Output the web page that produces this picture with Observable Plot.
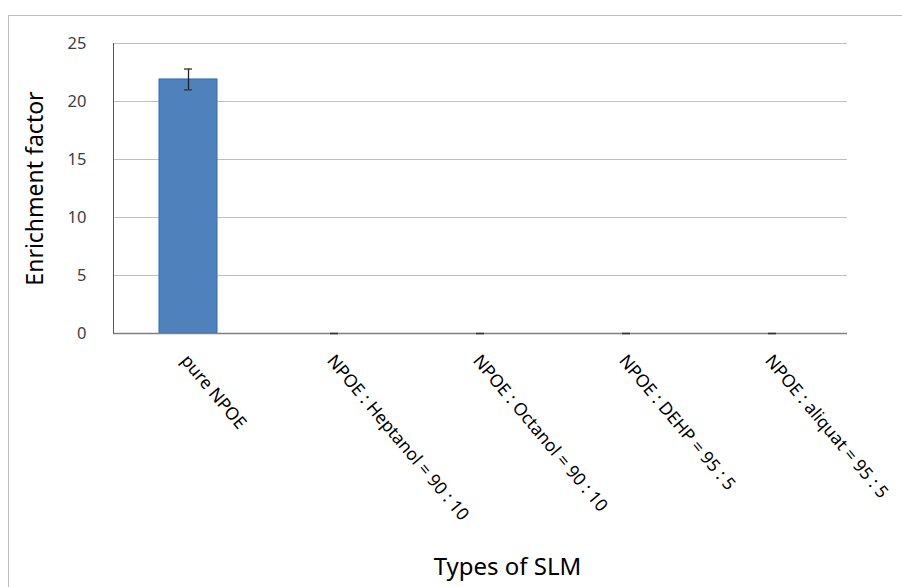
<!DOCTYPE html>
<html><head><meta charset="utf-8">
<script src="https://cdn.jsdelivr.net/npm/d3@7"></script>
<script src="https://cdn.jsdelivr.net/npm/@observablehq/plot@0.6"></script>
<style>
body{margin:0;background:#fff;}
#wrap{position:relative;width:902px;height:587px;overflow:hidden;}
#frame{position:absolute;left:8px;top:15px;width:1000px;height:700px;border:1px solid #bdbdbd;box-sizing:border-box;}
#chart{position:absolute;left:0;top:0;}
</style></head>
<body><div id="wrap"><div id="frame"></div><div id="chart"></div></div>
<script>
const categories = ["pure NPOE","NPOE : Heptanol = 90 : 10","NPOE : Octanol = 90 : 10","NPOE : DEHP = 95 : 5","NPOE : aliquat = 95 : 5"];
const values = [21.9, 0, 0, 0, 0];
const errors = [0.9, 0, 0, 0, 0];
const yTicks = [0, 5, 10, 15, 20, 25];
const yTitle = "Enrichment factor";
const xTitle = "Types of SLM";

const data = categories.map((c,i)=>({cat:c, v:values[i], lo:values[i]-errors[i], hi:values[i]+errors[i]}));
const font = "'Noto Sans', 'Open Sans', sans-serif";

const chart = Plot.plot({
  width: 902, height: 587,
  marginLeft: 113, marginRight: 55, marginTop: 43, marginBottom: 254,
  style: {fontFamily: font, background: "transparent", overflow: "visible"},
  x: {domain: categories, paddingInner: 0.6, paddingOuter: 0.3, align: 0.5, label: null},
  y: {domain: [0, 25], ticks: yTicks, label: null},
  marks: [
    Plot.gridY(yTicks.filter(t=>t>0), {stroke: "#bfbfbf", strokeOpacity: 1, strokeWidth: 1}),
    Plot.axisY({ticks: yTicks, tickSize: 0, tickPadding: 27, fontSize: 16.5, color: "#404040", label: null}),
    Plot.axisX({tickSize: 0, tickRotate: 50, tickPadding: 24, dx: -4, fontSize: 17.5, color: "#000", label: null}),
    Plot.barY(data.filter(d => d.v > 0), {x: "cat", y: "v", fill: "#4f81bd", stroke: "#2e6db4", strokeWidth: 1}),
    Plot.ruleY([0], {stroke: "#808080", strokeWidth: 1.5}),
    Plot.ruleX(data.filter(d => d.hi > d.lo), {x: "cat", y1: "lo", y2: "hi", stroke: "#222", strokeWidth: 1.3}),
    Plot.tickY(data, {x: "cat", y: "lo", stroke: "#333", strokeWidth: 1.3, insetLeft: 25, insetRight: 25}),
    Plot.tickY(data, {x: "cat", y: "hi", stroke: "#333", strokeWidth: 1.3, insetLeft: 25, insetRight: 25}),
    Plot.text([yTitle], {frameAnchor: "left", textAnchor: "middle", dx: -78, rotate: -90, fontSize: 23, fill: "#000"}),
    Plot.text([xTitle], {frameAnchor: "bottom", textAnchor: "middle", dx: 27, dy: 241, fontSize: 24, fill: "#000"})
  ]
});
const svg = d3.select(chart);
svg.append("line").attr("x1",113.5).attr("x2",113.5).attr("y1",43).attr("y2",333).attr("stroke","#595959").attr("stroke-width",1);
document.getElementById("chart").appendChild(chart);
</script>
</body></html>
